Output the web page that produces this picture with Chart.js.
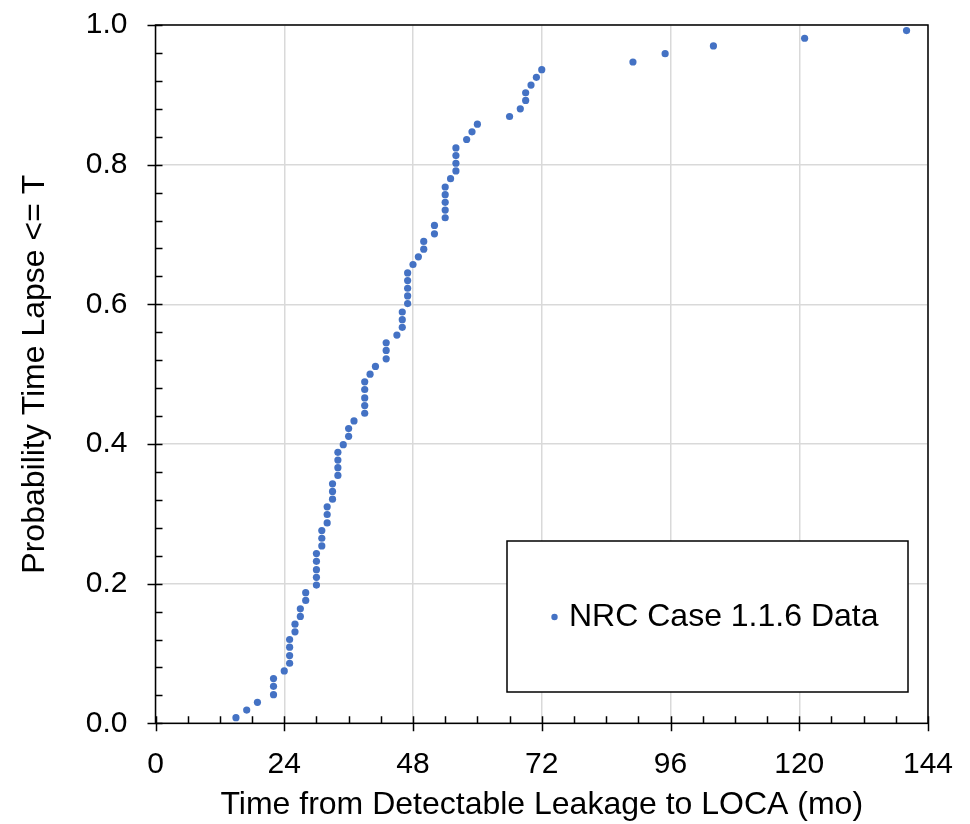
<!DOCTYPE html>
<html><head><meta charset="utf-8">
<script src="https://cdn.jsdelivr.net/npm/chart.js@4.4.0/dist/chart.umd.min.js"></script>
<style>html,body{margin:0;padding:0;background:#fff}canvas{display:block}</style>
</head><body>
<canvas id="c" width="970" height="824"></canvas>
<script>
const seriesLabel = 'NRC Case 1.1.6 Data';
const xTitle = 'Time from Detectable Leakage to LOCA (mo)';
const yTitle = 'Probability Time Lapse <= T';

const months = [15,17,19,22,22,22,24,25,25,25,25,26,26,27,27,28,28,30,30,30,
  30,30,31,31,31,32,32,32,33,33,33,34,34,34,34,35,36,36,37,39,
  39,39,39,39,40,41,43,43,43,45,46,46,46,47,47,47,47,47,48,49,
  50,50,52,52,54,54,54,54,54,55,56,56,56,56,58,59,60,66,68,69,
  69,70,71,72,89,95,104,121,140];
const probability = [0.008,0.019,0.030,0.041,0.053,0.064,0.075,0.086,0.097,0.109,
  0.120,0.131,0.142,0.153,0.164,0.176,0.187,0.198,0.209,0.220,
  0.232,0.243,0.254,0.265,0.276,0.287,0.299,0.310,0.321,0.332,
  0.343,0.355,0.366,0.377,0.388,0.399,0.411,0.422,0.433,0.444,
  0.455,0.466,0.478,0.489,0.500,0.511,0.522,0.534,0.545,0.556,
  0.567,0.578,0.589,0.601,0.612,0.623,0.634,0.645,0.657,0.668,
  0.679,0.690,0.701,0.713,0.724,0.735,0.746,0.757,0.768,0.780,
  0.791,0.802,0.813,0.824,0.836,0.847,0.858,0.869,0.880,0.892,
  0.903,0.914,0.925,0.936,0.947,0.959,0.970,0.981,0.992];
const xTickValues = [0,24,48,72,96,120,144];
const yTickValues = [0,0.2,0.4,0.6,0.8,1.0];
const xMinorStep = 6;
const yMinorStep = 0.04;

const FONT = "'Liberation Sans', Arial, sans-serif";
const points = months.map((m, i) => ({x: m, y: probability[i]}));

const decor = {
  id: 'decor',
  afterDraw(chart) {
    const {ctx, chartArea: a, scales: {x, y}} = chart;
    ctx.save();
    ctx.strokeStyle = '#000';
    ctx.lineWidth = 1.5;
    ctx.strokeRect(a.left, a.top, a.right - a.left, a.bottom - a.top);
    ctx.beginPath();
    for (let v = x.min; v <= x.max + 1e-9; v += xMinorStep) {
      const px = Math.round(x.getPixelForValue(v)) + 0.5;
      const major = xTickValues.some(t => Math.abs(t - v) < 1e-9);
      ctx.moveTo(px, a.bottom - 7);
      ctx.lineTo(px, major ? a.bottom + 8 : a.bottom);
    }
    for (let v = y.min; v <= y.max + 1e-9; v += yMinorStep) {
      const py = Math.round(y.getPixelForValue(v)) + 0.5;
      const major = yTickValues.some(t => Math.abs(t - v) < 1e-6);
      ctx.moveTo(major ? a.left - 8 : a.left, py);
      ctx.lineTo(a.left + 7, py);
    }
    ctx.stroke();

    // legend box
    const lx = 507, ly = 541, lw = 401, lh = 151;
    ctx.fillStyle = '#fff';
    ctx.fillRect(lx, ly, lw, lh);
    ctx.lineWidth = 1.5;
    ctx.strokeRect(lx, ly, lw, lh);
    const ds = chart.data.datasets[0];
    ctx.fillStyle = ds.backgroundColor;
    ctx.beginPath();
    ctx.arc(554.5, 617, 3.2, 0, Math.PI * 2);
    ctx.fill();
    ctx.fillStyle = '#000';
    ctx.font = "32px " + FONT;
    ctx.textBaseline = 'middle';
    ctx.textAlign = 'left';
    ctx.fillText(ds.label, 569, 617);
    ctx.restore();
  }
};

new Chart(document.getElementById('c'), {
  type: 'scatter',
  data: {
    datasets: [{
      label: seriesLabel,
      data: points,
      backgroundColor: '#4472C4',
      borderColor: '#4472C4',
      borderWidth: 0,
      pointRadius: 3.6,
      pointHoverRadius: 3.6
    }]
  },
  options: {
    responsive: false,
    animation: false,
    events: [],
    layout: {padding: {left: 0, right: 42, top: 25, bottom: 0}},
    plugins: {legend: {display: false}, tooltip: {enabled: false}},
    scales: {
      x: {
        type: 'linear', min: 0, max: 144,
        afterBuildTicks: s => { s.ticks = xTickValues.map(v => ({value: v})); },
        afterFit: s => { s.height = 100.7; s.paddingLeft = 0; s.paddingRight = 0; },
        grid: {color: '#d9d9d9', lineWidth: 1.5, drawTicks: false},
        border: {display: false},
        ticks: {color: '#000', font: {family: FONT, size: 30}, padding: 23, maxRotation: 0, autoSkip: false},
        title: {display: true, text: xTitle, color: '#000', font: {family: FONT, size: 32}, padding: {top: 0, bottom: 0}}
      },
      y: {
        type: 'linear', min: 0, max: 1,
        afterBuildTicks: s => { s.ticks = yTickValues.map(v => ({value: v})); },
        afterFit: s => { s.width = 155.5; s.paddingTop = 0; s.paddingBottom = 0; },
        grid: {color: '#d9d9d9', lineWidth: 1.5, drawTicks: false},
        border: {display: false},
        ticks: {color: '#000', font: {family: FONT, size: 30}, padding: 28, autoSkip: false,
          callback: v => v.toFixed(1)},
        title: {display: true, text: yTitle, color: '#000', font: {family: FONT, size: 32}, padding: {top: 16, bottom: 0}}
      }
    }
  },
  plugins: [decor]
});
</script>
</body></html>
